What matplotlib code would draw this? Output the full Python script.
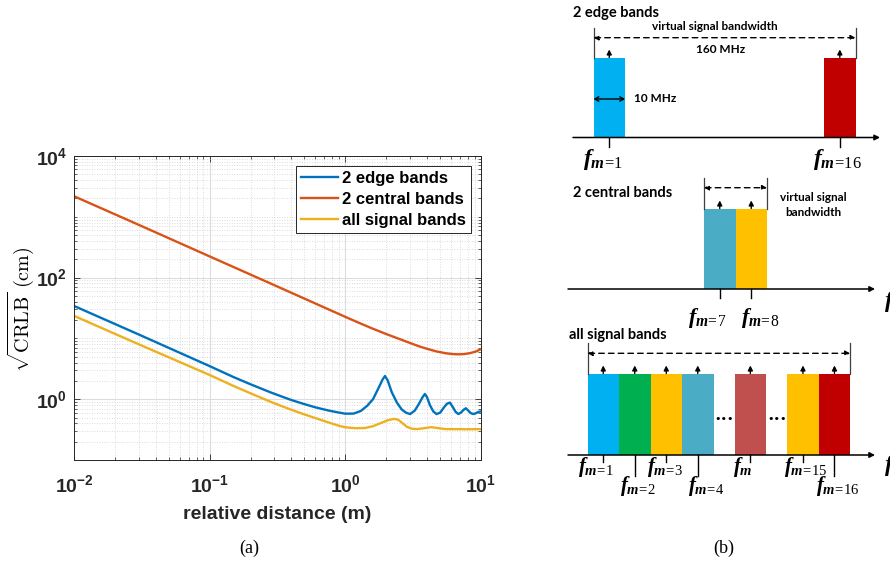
import matplotlib
matplotlib.use("Agg")
import matplotlib.pyplot as plt
from matplotlib.patches import Rectangle
from matplotlib.ticker import LogLocator, NullFormatter, FixedLocator

plt.rcParams["mathtext.fontset"] = "custom"
plt.rcParams["mathtext.rm"] = "Liberation Serif"
plt.rcParams["mathtext.it"] = "Liberation Serif:italic:bold"
plt.rcParams["mathtext.bf"] = "Liberation Serif:bold"

# ---------------- (a) square-root CRLB vs. relative distance ----------------
dist_edge = [0.01, 0.03, 0.1, 0.15, 0.2, 0.28, 0.35, 0.4, 0.49, 0.6, 0.75, 0.9,
             1.0, 1.15, 1.3, 1.45, 1.6, 1.75, 1.88, 1.96, 2.05, 2.2, 2.4, 2.6,
             2.8, 3.0, 3.25, 3.5, 3.7, 3.86, 4.0, 4.2, 4.45, 4.7, 5.0, 5.3,
             5.6, 5.9, 6.2, 6.5, 6.8, 7.1, 7.45, 7.74, 8.0, 8.4, 8.8, 9.2,
             9.6, 10.0]
crlb_edge = [34.2, 11.6, 3.5, 2.31, 1.76, 1.30, 1.08, 0.97, 0.84, 0.736, 0.652, 0.602,
             0.578, 0.58, 0.64, 0.78, 1.0, 1.5, 2.1, 2.41, 2.05, 1.3, 0.88, 0.68,
             0.6, 0.57, 0.65, 0.85, 1.07, 1.22, 1.08, 0.8, 0.63, 0.57, 0.6, 0.72,
             0.84, 0.88, 0.74, 0.62, 0.57, 0.6, 0.67, 0.71, 0.66, 0.59, 0.57, 0.59,
             0.62, 0.63]

dist_central = [0.01, 0.03, 0.1, 0.3, 1.0, 1.3, 1.6, 2.0, 2.5, 3.0, 3.5, 4.0,
                4.7, 5.5, 6.2, 6.8, 7.5, 8.3, 9.2, 10.0]
crlb_central = [2180, 738, 223, 75, 22.6, 17.5, 14.4, 11.8, 9.8, 8.4, 7.4, 6.75,
                6.1, 5.7, 5.52, 5.47, 5.52, 5.72, 6.1, 6.68]

dist_all = [0.01, 0.03, 0.1, 0.15, 0.2, 0.28, 0.35, 0.4, 0.49, 0.6, 0.75, 0.9,
            1.0, 1.2, 1.4, 1.6, 1.85, 2.05, 2.28, 2.45, 2.65, 2.85, 3.1, 3.35,
            3.7, 4.3, 4.8, 5.5, 6.5, 8.0, 10.0]
crlb_all = [23.5, 8.0, 2.5, 1.65, 1.25, 0.91, 0.75, 0.67, 0.57, 0.49, 0.415, 0.365,
            0.345, 0.333, 0.336, 0.36, 0.41, 0.45, 0.475, 0.46, 0.4, 0.35, 0.327,
            0.322, 0.33, 0.347, 0.335, 0.322, 0.322, 0.32, 0.322]

series_labels = ["2 edge bands", "2 central bands", "all signal bands"]
series_colors = ["#0072BD", "#D95319", "#EDB120"]

# ---------------- (b) band layout ----------------
edge_bands = ["1", "16"]
edge_colors = ["#00B0F0", "#C00000"]
central_bands = ["7", "8"]
central_colors = ["#4BACC6", "#FFC000"]
all_bands = ["1", "2", "3", "4", "", "15", "16"]
all_colors = ["#00B0F0", "#00B050", "#FFC000", "#4BACC6", "#C0504D", "#FFC000", "#C00000"]

W, H = 890, 563
fig = plt.figure(figsize=(W / 100, H / 100), dpi=100)

sans = ["Liberation Sans", "DejaVu Sans"]
ink = "#262626"
ax = fig.add_axes([74 / W, 1 - 460 / H, (481 - 74) / W, (460 - 156) / H])
for d, v, lab, col in zip([dist_edge, dist_central, dist_all],
                          [crlb_edge, crlb_central, crlb_all],
                          series_labels, series_colors):
    ax.plot(d, v, color=col, lw=1.7, label=lab)
ax.set_xscale("log")
ax.set_yscale("log")
ax.set_xlim(1e-2, 1e1)
ax.set_ylim(1e-1, 1e4)
ax.xaxis.set_major_locator(LogLocator(base=10, numticks=10))
ax.yaxis.set_major_locator(FixedLocator([1e0, 1e2, 1e4]))
ax.xaxis.set_minor_locator(LogLocator(base=10, subs=range(2, 10), numticks=20))
ax.yaxis.set_minor_locator(LogLocator(base=10, subs=range(1, 10), numticks=20))
ax.yaxis.set_minor_formatter(NullFormatter())
ax.xaxis.set_minor_formatter(NullFormatter())
ax.grid(True, which="major", color="#dcdcdc", lw=0.8, ls="-")
ax.grid(True, which="minor", color="#d0d0d0", lw=0.6, ls=(0, (1, 2)))
ax.set_axisbelow(True)
ax.tick_params(which="both", direction="in", top=True, right=True, colors=ink)
ax.tick_params(which="major", length=4, width=0.6, labelsize=14)
ax.tick_params(axis="x", which="major", pad=10)
ax.tick_params(axis="y", which="major", pad=5)
ax.tick_params(which="minor", length=2.5, width=0.5)
for t in ax.get_xticklabels() + ax.get_yticklabels():
    t.set_fontfamily(sans)
    t.set_fontweight("bold")
    t.set_color(ink)
for s in ax.spines.values():
    s.set_color(ink)
    s.set_linewidth(0.7)
ax.set_xlabel("relative distance (m)", fontsize=14, fontweight="bold",
              family=sans, color=ink, labelpad=7)
fig.text(21 / W, 1 - 309 / H, r"$\sqrt{\mathrm{CRLB}}\ (\mathrm{cm})$", rotation=90,
         ha="center", va="center", fontsize=14.5, math_fontfamily="cm")
leg = ax.legend(loc="upper right", prop={"family": sans, "weight": "bold", "size": 12},
                handlelength=2.2, handletextpad=0.25, labelspacing=0.35,
                borderpad=0.3, borderaxespad=0.6, fancybox=False,
                edgecolor=ink, framealpha=1)
leg.get_frame().set_linewidth(0.7)

# ---------------- (b) schematic ----------------
axd = fig.add_axes([560 / W, 0, 330 / W, 1])
axd.set_xlim(560, 890)
axd.set_ylim(H, 0)
axd.axis("off")

BW = 31.5
head = "-|>,head_length=0.35,head_width=0.18"
lab_font = ["Lato", "DejaVu Sans"]


def freq_label(idx):
    # f_{m=idx}, or plain f_m for the generic band
    if idx:
        return r"$f_{m\!=\!%s}$" % idx
    return r"$f_{m}$"


def small_arrow(x, y0, y1, lw=1.0):
    axd.annotate("", xy=(x, y1), xytext=(x, y0),
                 arrowprops=dict(arrowstyle=head, lw=lw, color="k",
                                 shrinkA=0, shrinkB=0, mutation_scale=8))


def panel(x0, y_axis, y_top, slots, bands, colors, fsize, tick_lens, lab_dx, lab_dy,
          ax_x0, ax_x1, span_y):
    xs = [x0 + s * BW for s in slots]
    for x, b, c, tl, dx, dy in zip(xs, bands, colors, tick_lens, lab_dx, lab_dy):
        axd.add_patch(Rectangle((x, y_top), BW, y_axis - y_top, facecolor=c,
                                edgecolor="none", zorder=1))
        cx = x + BW / 2
        small_arrow(cx, y_top, y_top - 8)
        axd.plot([cx, cx], [y_axis, y_axis + tl], color="k", lw=1.0, zorder=3)
        axd.text(cx + dx, y_axis + dy, freq_label(b), ha="left", va="center",
                 fontsize=fsize)
    axd.annotate("", xy=(ax_x1, y_axis), xytext=(ax_x0, y_axis),
                 arrowprops=dict(arrowstyle=head, lw=1.1, color="k",
                                 shrinkA=0, shrinkB=0, mutation_scale=9), zorder=4)
    xl, xr = xs[0], xs[-1] + BW
    for xv in (xl, xr):
        axd.plot([xv, xv], [span_y - 10, y_top], color="#404040", lw=0.9)
    axd.annotate("", xy=(xr, span_y), xytext=(xl, span_y),
                 arrowprops=dict(arrowstyle="<|-|>,head_length=0.35,head_width=0.18",
                                 lw=1.0, color="k", ls=(0, (4, 3)),
                                 shrinkA=0, shrinkB=0, mutation_scale=8))
    return xs


# 2 edge bands
xs = panel(593.5, 137.5, 57.5, [0, 7.32], edge_bands, edge_colors, 17,
           [9, 9], [-26, -27], [22, 22], 573, 880, 37.7)
axd.text(572.7, 13, "2 edge bands", ha="left", va="center", fontsize=10.5,
         fontweight="bold", family=lab_font)
axd.text(714.5, 27, "virtual signal bandwidth", ha="center", va="center",
         fontsize=8.5, fontweight="bold", family=lab_font)
axd.text(721, 49.3, "160 MHz", ha="center", va="center", fontsize=8.5,
         fontweight="bold", family=lab_font)
axd.annotate("", xy=(xs[0] + BW, 99), xytext=(xs[0], 99),
             arrowprops=dict(arrowstyle="<->,head_length=0.35,head_width=0.2",
                             lw=1.0, color="k", shrinkA=0, shrinkB=0, mutation_scale=8))
axd.text(634, 99, "10 MHz", ha="left", va="center", fontsize=8.5,
         fontweight="bold", family=lab_font)

# 2 central bands
panel(704, 289, 208.5, [0, 1], central_bands, central_colors, 16,
      [9, 9], [-32, -10], [29, 29], 568, 875, 187.7)
axd.text(572.7, 193.3, "2 central bands", ha="left", va="center", fontsize=10.5,
         fontweight="bold", family=lab_font)
axd.text(813.8, 205, "virtual signal\nbandwidth", ha="center", va="center",
         fontsize=8.5, fontweight="bold", family=lab_font, linespacing=1.35)
axd.text(884, 301, r"$f$", ha="left", va="center", fontsize=17)

# all signal bands
xs = panel(587.5, 455, 373.5, [0, 1, 2, 3, 4.67, 6.34, 7.34], all_bands, all_colors,
           15, [7, 21, 7, 21, 7, 7, 21], [-25, -15, -19, -10, -17, -19, -18],
           [12, 31, 12, 31, 12, 12, 31], 568, 875, 353.3)
axd.text(569.3, 335, "all signal bands", ha="left", va="center", fontsize=10.5,
         fontweight="bold", family=lab_font)
for x_left, x_right in ((xs[3] + BW, xs[4]), (xs[4] + BW, xs[5])):
    axd.text((x_left + x_right) / 2, 419.3, "\u2022\u2022\u2022", ha="center",
             va="center", fontsize=8, family="DejaVu Sans")
axd.text(884, 466, r"$f$", ha="left", va="center", fontsize=17)

# captions
fig.text(249 / W, 1 - 548 / H, "(a)", ha="center", va="center", fontsize=13,
         family="Liberation Serif")
fig.text(724 / W, 1 - 548 / H, "(b)", ha="center", va="center", fontsize=13,
         family="Liberation Serif")

fig.savefig("out.png", dpi=100)
